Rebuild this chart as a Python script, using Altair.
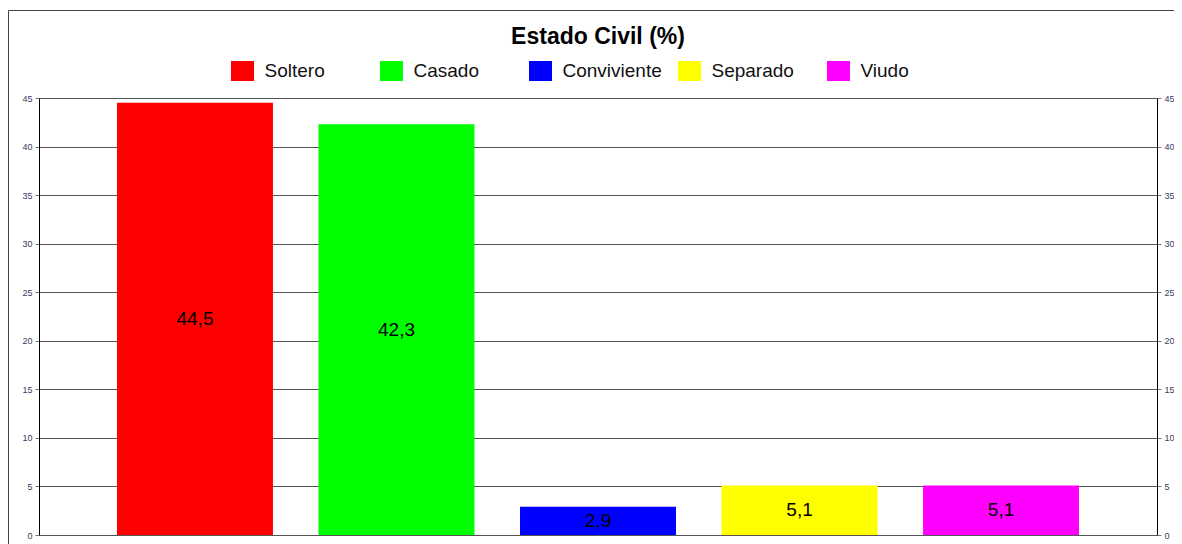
import altair as alt
import pandas as pd

categories = ["Soltero", "Casado", "Conviviente", "Separado", "Viudo"]
values = [44.5, 42.3, 2.9, 5.1, 5.1]
labels = ["44,5", "42,3", "2,9", "5,1", "5,1"]
colors = ["#FF0000", "#00FF00", "#0000FF", "#FFFF00", "#FF00FF"]
y_ticks = [0, 5, 10, 15, 20, 25, 30, 35, 40, 45]

df = pd.DataFrame({"cat": categories, "val": values, "label": labels})

FONT = "Liberation Sans"
W, H = 1118, 437

xenc = alt.X("cat:N", sort=categories, axis=None,
             scale=alt.Scale(paddingInner=0.226, paddingOuter=0.387))
yscale = alt.Scale(domain=[0, 45], nice=False)

def yaxis(orient):
    return alt.Axis(orient=orient, values=y_ticks, title=None, grid=(orient == "left"),
                    gridColor="#555555", gridWidth=1, domainColor="#000000",
                    tickColor="#777777", tickSize=4, labelFontSize=9, labelColor="#3a3a66",
                    labelFont=FONT, labelPadding=3)

base = alt.Chart(df)

bars = base.mark_bar().encode(
    x=xenc,
    y=alt.Y("val:Q", scale=yscale, axis=yaxis("left")),
    color=alt.Color("cat:N", sort=categories,
                    scale=alt.Scale(domain=categories, range=colors),
                    legend=alt.Legend(
                        title=None, orient="none", legendX=193.5, legendY=-37,
                        direction="horizontal", columns=5, gridAlign="all",
                        columnPadding=15, symbolType="M-1.15,-1L1.15,-1L1.15,1L-1.15,1Z",
                        symbolSize=400, symbolStrokeWidth=0, symbolOpacity=1,
                        labelFontSize=19, labelFont=FONT, labelColor="#111111",
                        labelOffset=12, labelLimit=300)),
)

text = base.transform_calculate(mid="datum.val / 2").mark_text(
    font=FONT, fontSize=19, color="#000000", baseline="middle").encode(
    x=xenc,
    y=alt.Y("mid:Q", scale=yscale, axis=yaxis("right")),
    text="label:N",
)

frame_df = pd.DataFrame({"a": [0]})
frame_left = alt.Chart(frame_df).mark_rule(color="#444444", strokeWidth=1).encode(
    x=alt.value(-30.5), y=alt.value(-87.5), y2=alt.value(H + 20))
frame_top = alt.Chart(frame_df).mark_rule(color="#444444", strokeWidth=1).encode(
    x=alt.value(-30.5), x2=alt.value(W + 40), y=alt.value(-87.5))

chart = alt.layer(frame_left, frame_top, bars, text).resolve_scale(
    y="shared").resolve_axis(y="independent").properties(
    width=W, height=H,
    autosize=alt.AutoSizeParams(type="none"),
    padding={"left": 31, "top": 90, "right": 17, "bottom": 10},
    title=alt.TitleParams("Estado Civil (%)", font=FONT, fontSize=23, fontWeight="bold",
                          color="#000000", anchor="middle", offset=-39),
).configure_view(stroke=None)

chart.save("out.html", embed_options={"renderer": "svg", "actions": False})
